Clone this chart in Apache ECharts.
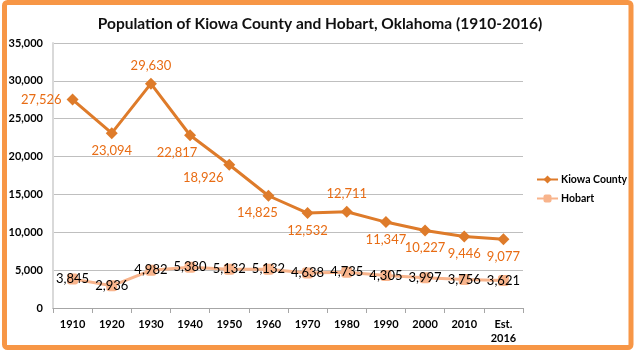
<!DOCTYPE html>
<html><head><meta charset="utf-8">
<script src="https://cdn.jsdelivr.net/npm/echarts@6/dist/echarts.min.js"></script>
<style>html,body{margin:0;padding:0;background:#fff;}#c{width:640px;height:355px;}</style>
</head><body><div id="c"></div>
<script>
const categories = ['1910','1920','1930','1940','1950','1960','1970','1980','1990','2000','2010','Est.\n2016'];
const kiowa = [27526, 23094, 29630, 22817, 18926, 14825, 12532, 12711, 11347, 10227, 9446, 9077];
const hobart = [3845, 2936, 4982, 5380, 5132, 5132, 4638, 4735, 4305, 3997, 3756, 3621];
const kiowaLabelPos = ['left','bottom','top','bottom','bottom','bottom','bottom','top','bottom','bottom','bottom','bottom'];
const kiowaLabelOffset = [[0,0],[0,0],[0,0],[-13,0],[-26,-4],[-11,0],[0,0],[0,0],[0,0],[0,0],[0,0],[0,0]];

const chart = echarts.init(document.getElementById('c'));
const font = 'Lato, "Liberation Sans", sans-serif';
chart.setOption({
  animation: false,
  backgroundColor: '#fff',
  title: {
    text: 'Population of Kiowa County and Hobart, Oklahoma (1910-2016)',
    left: 'center', top: 11,
    textStyle: {fontFamily: font, fontSize: 15.5, fontWeight: 'bold', color: '#111'}
  },
  legend: {
    orient: 'vertical', left: 536, top: 174, itemGap: 8, padding: 0,
    itemWidth: 21, itemHeight: 10,
    textStyle: {fontFamily: font, fontSize: 10.5, fontWeight: 'bold', color: '#000', padding: [0, 0, 0, -2]},
    data: ['Kiowa County','Hobart']
  },
  grid: {left: 53, right: 117, top: 43, bottom: 47},
  xAxis: {
    type: 'category', data: categories, boundaryGap: true,
    axisLine: {lineStyle: {color: '#A6A6A6', width: 1}},
    axisTick: {show: true, length: 5, lineStyle: {color: '#A6A6A6'}},
    axisLabel: {fontFamily: font, fontSize: 11, fontWeight: 'bold', color: '#000', margin: 9, lineHeight: 14}
  },
  yAxis: {
    type: 'value', min: 0, max: 35000, interval: 5000,
    axisLine: {show: true, lineStyle: {color: '#D9D9D9', width: 2}},
    axisTick: {show: false},
    splitLine: {lineStyle: {color: '#BFBFBF', width: 1}},
    axisLabel: {fontFamily: font, fontSize: 11, fontWeight: 'bold', color: '#000', margin: 10,
      formatter: v => v.toLocaleString('en-US')}
  },
  series: [
    {
      name: 'Kiowa County', type: 'line', data: kiowa.map((v, i) => ({
        value: v,
        label: {position: kiowaLabelPos[i], offset: kiowaLabelOffset[i]}
      })),
      symbol: 'diamond', symbolSize: 12,
      lineStyle: {color: '#DE7B2A', width: 3},
      itemStyle: {color: '#DE7B2A'},
      label: {show: true, fontFamily: font, fontSize: 13, color: '#E86C14',
        formatter: p => p.value.toLocaleString('en-US')},
      z: 3
    },
    {
      name: 'Hobart', type: 'line', data: hobart,
      symbol: 'roundRect', symbolSize: 11,
      lineStyle: {color: '#F8B48C', width: 3},
      itemStyle: {color: '#F8B48C'},
      label: {show: true, position: 'inside', fontFamily: font, fontSize: 13, color: '#000',
        formatter: p => p.value.toLocaleString('en-US')},
      z: 2
    }
  ],
  graphic: [{
    type: 'rect', silent: true, z: 100,
    shape: {x: 4.5, y: 2.5, width: 626.5, height: 345, r: 3},
    style: {fill: 'none', stroke: '#F79646', lineWidth: 5}
  }]
});
</script></body></html>
